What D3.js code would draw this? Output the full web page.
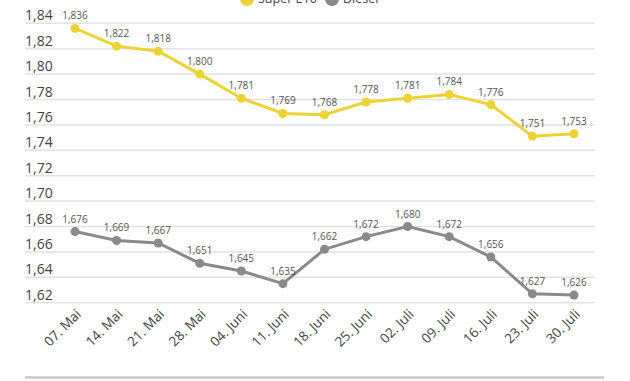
<!DOCTYPE html>
<html>
<head>
<meta charset="utf-8">
<script src="https://cdn.jsdelivr.net/npm/d3@7"></script>
<style>
  body { margin: 0; background: #fff; }
  svg { display: block; font-family: "Open Sans", "Noto Sans", sans-serif; }
  .grid line { stroke: #e2e2e2; stroke-width: 1.5; }
  .ylab { fill: #444; font-size: 14px; }
  .xlab { fill: #444; font-size: 13.5px; }
  .val { fill: #555; font-size: 10px; text-anchor: middle; }
  .legend text { fill: #444; font-size: 12.5px; }
</style>
</head>
<body>
<svg width="630" height="381"></svg>
<script>
const dates = ['07. Mai', '14. Mai', '21. Mai', '28. Mai', '04. Juni', '11. Juni', '18. Juni',
  '25. Juni', '02. Juli', '09. Juli', '16. Juli', '23. Juli', '30. Juli'];
const superE10 = [1.836, 1.822, 1.818, 1.800, 1.781, 1.769, 1.768, 1.778, 1.781, 1.784, 1.776, 1.751, 1.753];
const diesel = [1.676, 1.669, 1.667, 1.651, 1.645, 1.635, 1.662, 1.672, 1.680, 1.672, 1.656, 1.627, 1.626];
const yTicks = [1.62, 1.64, 1.66, 1.68, 1.70, 1.72, 1.74, 1.76, 1.78, 1.80, 1.82, 1.84];
const seriesNames = ['Super E10', 'Diesel'];
const colors = ['#ecd235', '#8a8a8a'];

const svg = d3.select('svg');
const fmt = v => d3.format('.3f')(v).replace('.', ',');
const fmt2 = v => d3.format('.2f')(v).replace('.', ',');

const xScale = d3.scalePoint()
  .domain(dates)
  .range([75, 574]);

const yScale = d3.scaleLinear()
  .domain([1.62, 1.84])
  .range([302.7, 23.3]);

// gridlines + y labels
const grid = svg.append('g').attr('class', 'grid');
grid.selectAll('line').data(yTicks).join('line')
  .attr('x1', 25).attr('x2', 595)
  .attr('y1', d => yScale(d)).attr('y2', d => yScale(d));

svg.append('g').selectAll('text').data(yTicks).join('text')
  .attr('class', 'ylab')
  .attr('x', 25)
  .attr('y', d => yScale(d) - 3)
  .text(fmt2);

// bottom rule
svg.append('line')
  .attr('x1', 25).attr('x2', 604)
  .attr('y1', 377.5).attr('y2', 377.5)
  .attr('stroke', '#c8c8c8').attr('stroke-width', 2.5);

// x labels, rotated
svg.append('g').selectAll('text').data(dates).join('text')
  .attr('class', 'xlab')
  .attr('text-anchor', 'end')
  .attr('transform', d => `translate(${xScale(d) + 7},${315}) rotate(-45)`)
  .text(d => d);

const line = d3.line()
  .x((d, i) => xScale(dates[i]))
  .y(d => yScale(d));

[superE10, diesel].forEach((values, k) => {
  const g = svg.append('g');
  g.append('path')
    .attr('d', line(values))
    .attr('fill', 'none')
    .attr('stroke', colors[k])
    .attr('stroke-width', 3);
  g.selectAll('circle').data(values).join('circle')
    .attr('cx', (d, i) => xScale(dates[i]))
    .attr('cy', d => yScale(d))
    .attr('r', 4.5)
    .attr('fill', colors[k]);
  g.selectAll('text').data(values).join('text')
    .attr('class', 'val')
    .attr('x', (d, i) => xScale(dates[i]))
    .attr('y', d => yScale(d) - 9)
    .text(fmt);
});

// legend (partly cut off at top, as in the source)
const legend = svg.append('g').attr('class', 'legend');
const legendX = [247, 332];
seriesNames.forEach((name, k) => {
  legend.append('circle')
    .attr('cx', legendX[k]).attr('cy', -1).attr('r', 7)
    .attr('fill', colors[k]);
  legend.append('text')
    .attr('x', legendX[k] + 11).attr('y', 3)
    .text(name);
});
</script>
</body>
</html>
